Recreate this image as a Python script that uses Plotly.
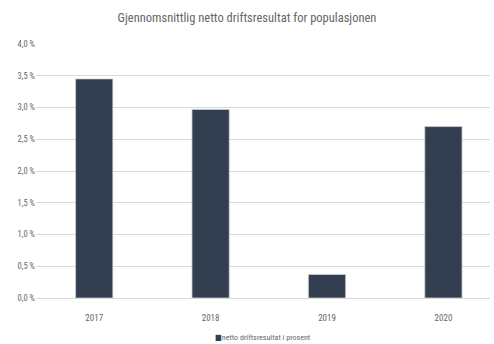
import plotly.graph_objects as go

years = ["2017", "2018", "2019", "2020"]
values = [3.45, 2.97, 0.37, 2.70]
series_name = "netto driftsresultat i prosent"
title = "Gjennomsnittlig netto driftsresultat for populasjonen"
ytick_vals = [0, 0.5, 1.0, 1.5, 2.0, 2.5, 3.0, 3.5, 4.0]
ytick_text = ["0,0 %", "0,5 %", "1,0 %", "1,5 %", "2,0 %", "2,5 %", "3,0 %", "3,5 %", "4,0 %"]

BAR_COLOR = "#333f50"
FONT = "Liberation Sans Narrow, Roboto Condensed, DejaVu Sans Condensed, sans-serif"

fig = go.Figure()
fig.add_trace(go.Bar(
    x=years, y=values, name=series_name,
    marker=dict(color=BAR_COLOR, line=dict(color="#c9ced6", width=0.8)),
    width=0.32, showlegend=False,
))
# legend drawn as a text key below the axis
fig.add_annotation(
    text=f"<span style='color:{BAR_COLOR}'>■</span>{series_name}",
    x=0.5, xref="paper", y=-0.155, yref="paper", xanchor="center", yanchor="middle",
    showarrow=False, font=dict(family=FONT, size=8, color="#666666"),
)
fig.update_layout(
    width=494, height=344,
    margin=dict(l=36, r=4, t=44, b=46),
    paper_bgcolor="white", plot_bgcolor="white",
    title=dict(text=title, x=0.5, xanchor="center", y=0.948, yanchor="middle",
               font=dict(family=FONT, size=12.5, color="#666666")),
    font=dict(family=FONT, color="#666666"),
    showlegend=False,
    xaxis=dict(type="category", range=[-0.5, 3.4], showgrid=False,
               showline=True, linecolor="#d9d9d9", linewidth=1,
               ticks="", ticklabelstandoff=11,
               tickfont=dict(family=FONT, size=9, color="#666666")),
    yaxis=dict(range=[0, 4.0],
               tickvals=ytick_vals, ticktext=ytick_text,
               showgrid=True, gridcolor="#d9d9d9", gridwidth=1,
               zeroline=False, showline=False, ticks="",
               tickfont=dict(family=FONT, size=8.5, color="#666666")),
)
fig.write_html("out.html")
